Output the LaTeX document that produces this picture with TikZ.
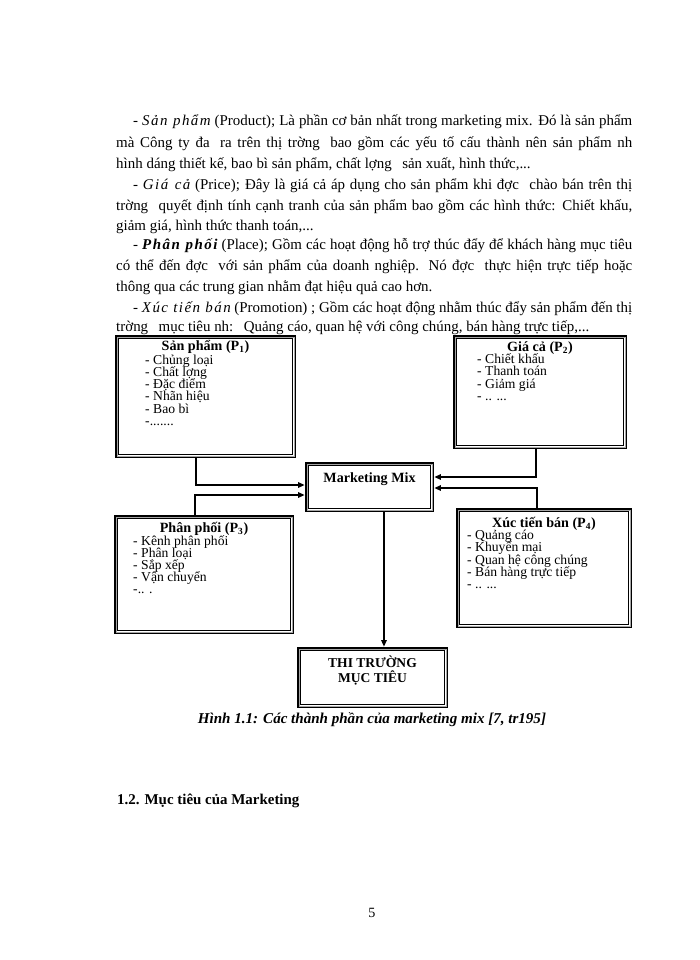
\documentclass[tikz,border=0pt]{standalone}
\usepackage{fontspec}
\setmainfont{Liberation Serif}
\newfontfamily\spacedfont[LetterSpace=10]{Liberation Serif}
\usetikzlibrary{arrows.meta}
\newcommand\gp{\hspace{0.7em}}
\newcommand\sit[1]{{\spacedfont\itshape #1}}
\newcommand\innerframe[1]{%
  \draw[line width=0.6pt,gray!70] ([shift={(2.3,2.3)}]#1.north west) rectangle ([shift={(-2.3,-2.3)}]#1.south east);
  \draw[line width=0.6pt] ([shift={(3.6,3.6)}]#1.north west) rectangle ([shift={(-3.6,-3.6)}]#1.south east);}
\tikzset{
  para/.style={anchor=base west, inner sep=0pt, font=\fontsize{12.7}{15}\selectfont},
  mbox/.style={draw, line width=2.2pt, inner sep=0pt, fill=white},
  ttl/.style={anchor=base, inner sep=0pt, font=\fontsize{12}{13}\selectfont\bfseries},
  itm/.style={anchor=base west, inner sep=0pt, font=\fontsize{11.6}{12}\selectfont},
  conn/.style={line width=1.3pt, -{Triangle[length=5.5pt,width=4.5pt]}},
}
\begin{document}
\begin{tikzpicture}[x=0.85pt,y=-0.85pt]
\fill[white] (0,0) rectangle (700,960);
\useasboundingbox (0,0) rectangle (700,960);

% paragraph text
\node[para] (l1) at (133,125) {\makebox[424.15pt][s]{- \sit{Sản phẩm} (Product); Là phần cơ bản nhất trong marketing mix. Đó là sản phẩm}};
\node[para] (l2) at (116,147) {\makebox[438.6pt][s]{mà Công ty đa\gp ra trên thị trờng\gp bao gồm các yếu tố cấu thành nên sản phẩm nh}};
\node[para] (l3) at (116,168) {hình dáng thiết kế, bao bì sản phẩm, chất lợng\gp sản xuất, hình thức,...};
\node[para] (l4) at (133,189) {\makebox[424.15pt][s]{- \sit{Giá cả} (Price); Đây là giá cả áp dụng cho sản phẩm khi đợc\gp chào bán trên thị}};
\node[para] (l5) at (116,210) {\makebox[438.6pt][s]{trờng\gp quyết định tính cạnh tranh của sản phẩm bao gồm các hình thức: Chiết khấu,}};
\node[para] (l6) at (116,230) {giảm giá, hình thức thanh toán,...};
\node[para] (l7) at (133,249) {\makebox[424.15pt][s]{- \sit{\bfseries Phân phối} (Place); Gồm các hoạt động hỗ trợ thúc đẩy để khách hàng mục tiêu}};
\node[para] (l8) at (116,270) {\makebox[438.6pt][s]{có thể đến đợc\gp với sản phẩm của doanh nghiệp. Nó đợc\gp thực hiện trực tiếp hoặc}};
\node[para] (l9) at (116,291) {thông qua các trung gian nhằm đạt hiệu quả cao hơn.};
\node[para] (l10) at (133,312) {\makebox[424.15pt][s]{- \sit{Xúc tiến bán} (Promotion) ; Gồm các hoạt động nhằm thúc đẩy sản phẩm đến thị}};
\node[para] (l11) at (116,331) {trờng\gp mục tiêu nh:\gp Quảng cáo, quan hệ với công chúng, bán hàng trực tiếp,...};

% boxes
\node[mbox, minimum width=179*0.85pt, minimum height=121*0.85pt] (p1) at (205.5,396.5) {};
\node[mbox, minimum width=172*0.85pt, minimum height=112*0.85pt] (p2) at (540,392) {};
\node[mbox, minimum width=127*0.85pt, minimum height=48*0.85pt] (mm) at (369.5,487) {};
\node[mbox, minimum width=178*0.85pt, minimum height=117*0.85pt] (p3) at (204,574.5) {};
\node[mbox, minimum width=174*0.85pt, minimum height=118*0.85pt] (p4) at (544,568) {};
\node[mbox, minimum width=149*0.85pt, minimum height=59*0.85pt] (thi) at (372.5,677.5) {};
\innerframe{p1}
\innerframe{p2}
\innerframe{mm}
\innerframe{p3}
\innerframe{p4}
\innerframe{thi}

% box texts
\node[ttl] (p1t) at (205.5,350) {Sản phẩm (P\textsubscript{1})};
\node[itm] (p1i1) at (145,364.0) {- Chủng loại};
\node[itm] (p1i2) at (145,376.3) {- Chất lợng};
\node[itm] (p1i3) at (145,388.6) {- Đặc điểm};
\node[itm] (p1i4) at (145,400.9) {- Nhãn hiệu};
\node[itm] (p1i5) at (145,413.2) {- Bao bì};
\node[itm] (p1i6) at (145,425.5) {-.......};

\node[ttl] (p2t) at (540,351) {Giá cả (P\textsubscript{2})};
\node[itm] (p2i1) at (477,363.5) {- Chiết khấu};
\node[itm] (p2i2) at (477,375.8) {- Thanh toán};
\node[itm] (p2i3) at (477,388.1) {- Giảm giá};
\node[itm] (p2i4) at (477,400.4) {- .. ...};

\node[ttl] (p3t) at (204,532) {Phân phối (P\textsubscript{3})};
\node[itm] (p3i1) at (133,545) {- Kênh phân phối};
\node[itm] (p3i2) at (133,557.1) {- Phân loại};
\node[itm] (p3i3) at (133,569.2) {- Sắp xếp};
\node[itm] (p3i4) at (133,581.3) {- Vận chuyển};
\node[itm] (p3i5) at (133,593.7) {-.. .};

\node[ttl] (p4t) at (544,527) {Xúc tiến bán (P\textsubscript{4})};
\node[itm] (p4i1) at (467,539.5) {- Quảng cáo};
\node[itm] (p4i2) at (467,551.8) {- Khuyến mại};
\node[itm] (p4i3) at (467,564.1) {- Quan hệ công chúng};
\node[itm] (p4i4) at (467,576.4) {- Bán hàng trực tiếp};
\node[itm] (p4i5) at (467,588.7) {- .. ...};

\node[ttl] (mmt) at (369.5,482) {Marketing Mix};
\node[align=center, inner sep=0pt, font=\fontsize{11.5}{12.75}\selectfont\bfseries] (thit) at (372.5,671) {THI TRƯỜNG\\MỤC TIÊU};

% connectors
\draw[conn] ([xshift=-8.1pt]p1.south) |- ([yshift=1.7pt]mm.west);
\draw[conn] ([xshift=-7.65pt]p3.north) |- ([yshift=-6.8pt]mm.west);
\draw[conn] ([xshift=-3.4pt]p2.south) |- ([yshift=8.5pt]mm.east);
\draw[conn] ([xshift=-5.95pt]p4.north) |- ([yshift=-0.85pt]mm.east);
\draw[conn] ([xshift=12.3pt]mm.south) -- ([xshift=12.3pt]mm.south |- thi.north);

% caption, heading, page number
\node[anchor=base, inner sep=0pt, font=\fontsize{12.8}{14}\selectfont\bfseries\itshape] (cap) at (372,723) {Hình 1.1: Các thành phần của marketing mix [7, tr195]};
\node[anchor=base west, inner sep=0pt, font=\fontsize{12.7}{14}\selectfont\bfseries] (h12) at (117,804) {1.2. Mục tiêu của Marketing};
\node[anchor=base, inner sep=0pt, font=\fontsize{12}{14}\selectfont] (pg) at (372,917) {5};
\end{tikzpicture}
\end{document}
